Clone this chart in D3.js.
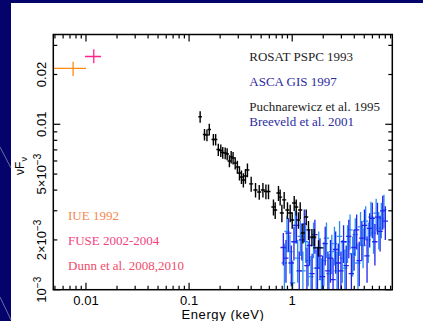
<!DOCTYPE html>
<html>
<head>
<meta charset="utf-8">
<script src="https://cdn.jsdelivr.net/npm/d3@7"></script>
<style>
  html, body { margin: 0; padding: 0; background: #03036b; }
  svg { display: block; }
</style>
</head>
<body>
<div id="chart"></div>
<script>
// ROSAT PSPC 1993 (energy keV, nuFnu in 1e-3 units, half errors)
const rosatE = [0.128, 0.141, 0.149, 0.157, 0.172, 0.181, 0.192, 0.203, 0.212, 0.224, 0.234, 0.246, 0.256, 0.267, 0.280, 0.294, 0.308, 0.322, 0.336, 0.352, 0.368, 0.40, 0.441, 0.479, 0.520, 0.556, 0.589, 0.658, 0.684, 0.736, 0.764, 0.794, 0.836, 0.900, 0.956, 1.00, 1.046, 1.094, 1.151, 1.196, 1.270, 1.367, 1.439, 1.553, 1.636, 1.80];
const rosatF = [11.1, 8.67, 8.61, 9.31, 8.09, 8.09, 7.04, 6.95, 6.75, 6.70, 6.61, 6.00, 6.35, 6.26, 5.83, 5.52, 5.08, 4.80, 4.60, 4.87, 5.29, 4.36, 4.01, 3.90, 4.01, 3.92, 3.92, 3.16, 3.03, 3.84, 3.63, 2.91, 3.49, 3.03, 2.91, 2.64, 3.34, 3.16, 2.64, 3.03, 2.20, 2.75, 2.30, 2.08, 2.08, 1.79];
const rosatDF = [0.9, 0.7, 0.7, 0.75, 0.65, 0.65, 0.6, 0.6, 0.55, 0.55, 0.55, 0.5, 0.55, 0.55, 0.5, 0.5, 0.5, 0.45, 0.45, 0.5, 0.5, 0.45, 0.4, 0.4, 0.4, 0.4, 0.4, 0.35, 0.35, 0.4, 0.4, 0.35, 0.4, 0.35, 0.35, 0.3, 0.35, 0.35, 0.3, 0.35, 0.3, 0.3, 0.3, 0.25, 0.25, 0.2];
const rosatDE = [0.005, 0.005, 0.006, 0.006, 0.007, 0.007, 0.008, 0.008, 0.009, 0.009, 0.010, 0.010, 0.011, 0.011, 0.012, 0.012, 0.013, 0.014, 0.014, 0.015, 0.016, 0.018, 0.020, 0.022, 0.024, 0.025, 0.027, 0.030, 0.031, 0.033, 0.035, 0.036, 0.038, 0.041, 0.044, 0.046, 0.048, 0.050, 0.053, 0.055, 0.058, 0.063, 0.066, 0.071, 0.075, 0.21];

// ASCA GIS 1997, two detectors
const gis2E = [0.82, 0.87, 0.92, 0.98, 1.04, 1.10, 1.17, 1.24, 1.31, 1.39, 1.47, 1.56, 1.66, 1.76, 1.86, 1.97, 2.09, 2.22, 2.35, 2.49, 2.64, 2.80, 2.97, 3.15, 3.34, 3.54, 3.75, 3.98, 4.22, 4.47, 4.74, 5.02, 5.32, 5.64, 5.98, 6.34, 6.72, 7.12, 7.55, 8.0];
const gis2F = [1.80, 1.55, 2.20, 1.45, 1.95, 2.45, 1.30, 2.00, 2.50, 1.40, 1.85, 1.25, 2.15, 1.35, 1.60, 1.20, 1.90, 1.30, 1.55, 1.15, 1.75, 1.45, 1.30, 1.95, 1.40, 2.10, 1.25, 1.80, 2.30, 1.50, 2.05, 2.45, 1.60, 2.35, 2.70, 1.95, 2.75, 2.25, 3.00, 2.60];
const gis2DF = [0.40, 0.45, 0.50, 0.40, 0.45, 0.55, 0.40, 0.50, 0.55, 0.40, 0.45, 0.40, 0.50, 0.45, 0.45, 0.40, 0.50, 0.40, 0.45, 0.40, 0.50, 0.45, 0.40, 0.50, 0.45, 0.55, 0.40, 0.50, 0.55, 0.45, 0.55, 0.60, 0.50, 0.55, 0.65, 0.55, 0.60, 0.55, 0.70, 0.60];
const gis2DE = [0.05, 0.05, 0.06, 0.06, 0.06, 0.07, 0.07, 0.08, 0.08, 0.08, 0.09, 0.09, 0.10, 0.10, 0.11, 0.12, 0.12, 0.13, 0.14, 0.15, 0.16, 0.17, 0.18, 0.19, 0.20, 0.21, 0.22, 0.24, 0.25, 0.27, 0.28, 0.30, 0.32, 0.34, 0.36, 0.38, 0.40, 0.43, 0.45, 0.48];

const gis3E = [0.84, 0.89, 0.95, 1.01, 1.07, 1.13, 1.20, 1.27, 1.35, 1.43, 1.52, 1.61, 1.71, 1.81, 1.92, 2.03, 2.15, 2.28, 2.42, 2.57, 2.72, 2.88, 3.06, 3.24, 3.44, 3.64, 3.86, 4.09, 4.34, 4.60, 4.87, 5.16, 5.47, 5.80, 6.15, 6.52, 6.91, 7.32, 7.76];
const gis3F = [1.45, 2.25, 1.70, 1.10, 2.45, 1.55, 2.10, 1.30, 1.95, 1.50, 1.20, 2.05, 1.35, 1.80, 1.15, 1.50, 2.05, 1.25, 1.70, 1.90, 1.30, 2.10, 1.55, 1.35, 1.95, 2.30, 1.65, 2.15, 1.45, 2.40, 1.85, 2.60, 2.00, 2.75, 2.20, 2.90, 2.35, 2.70, 3.05];
const gis3DF = [0.45, 0.55, 0.45, 0.40, 0.55, 0.45, 0.50, 0.40, 0.50, 0.45, 0.40, 0.50, 0.40, 0.45, 0.40, 0.45, 0.50, 0.40, 0.45, 0.50, 0.40, 0.50, 0.45, 0.40, 0.50, 0.55, 0.45, 0.55, 0.45, 0.55, 0.50, 0.60, 0.55, 0.65, 0.55, 0.65, 0.60, 0.65, 0.70];
const gis3DE = [0.05, 0.05, 0.06, 0.06, 0.06, 0.07, 0.07, 0.08, 0.08, 0.09, 0.09, 0.10, 0.10, 0.11, 0.11, 0.12, 0.13, 0.14, 0.14, 0.15, 0.16, 0.17, 0.18, 0.19, 0.21, 0.22, 0.23, 0.24, 0.26, 0.27, 0.29, 0.31, 0.33, 0.35, 0.37, 0.39, 0.41, 0.44, 0.46];

// UV points (keV, nuFnu in 1e-3 units)
const iueE = [0.0075], iueELo = [0.0049], iueEHi = [0.0100];
const iueF = [21.8], iueFLo = [19.6], iueFHi = [23.9];
const fuseE = [0.0119], fuseELo = [0.0098], fuseEHi = [0.0140];
const fuseF = [25.7], fuseFLo = [23.4], fuseFHi = [28.4];

const xLabels = [0.01, 0.1, 1];
const xLabelText = ["0.01", "0.1", "1"];
const yLabels = [0.02, 0.01, 0.005, 0.002, 0.001];
const yLabelMain = ["0.02", "0.01", "5\u00d710", "2\u00d710", "10"];
const yLabelSup = ["", "", "\u22123", "\u22123", "\u22123"];

const legendRight = [
  { text: "ROSAT PSPC 1993", color: "#222222", y: 61 },
  { text: "ASCA GIS 1997", color: "#2b2b9e", y: 86 },
  { text: "Puchnarewicz et al. 1995", color: "#222222", y: 111 },
  { text: "Breeveld et al. 2001", color: "#2b2b9e", y: 126 }
];
const legendLeft = [
  { text: "IUE 1992", color: "#f4874f", y: 220 },
  { text: "FUSE 2002-2004", color: "#f2437d", y: 245 },
  { text: "Dunn et al. 2008,2010", color: "#f04a6a", y: 270 }
];

const W = 423, H = 321;
const plot = { left: 53.3, right: 392.3, top: 34.5, bottom: 289.7 };

const svg = d3.select("#chart")
  .append("svg")
  .attr("width", W)
  .attr("height", H);

// slide background
svg.append("rect").attr("width", W).attr("height", H).attr("fill", "#03036b");
svg.append("rect").attr("x", 11).attr("y", 3).attr("width", W - 11).attr("height", H - 3).attr("fill", "#ffffff");
svg.append("line").attr("x1", 0).attr("y1", 147).attr("x2", 11).attr("y2", 168)
  .attr("stroke", "#8a8ab0").attr("stroke-width", 0.8);
svg.append("line").attr("x1", 0).attr("y1", 297).attr("x2", 11).attr("y2", 320)
  .attr("stroke", "#8a8ab0").attr("stroke-width", 0.8);

const x = d3.scaleLog().domain([0.00482, 9.35]).range([plot.left, plot.right]);
const y = d3.scaleLog().domain([0.001, 0.0349]).range([plot.bottom, plot.top]);

svg.append("clipPath").attr("id", "clip")
  .append("rect")
  .attr("x", plot.left).attr("y", plot.top)
  .attr("width", plot.right - plot.left).attr("height", plot.bottom - plot.top);

const g = svg.append("g").attr("clip-path", "url(#clip)");

function drawSeries(E, F, dE, dF, color, width) {
  const pts = E.map((e, i) => ({
    e, f: F[i] * 1e-3,
    eLo: e - dE[i], eHi: e + dE[i],
    fLo: Math.max((F[i] - dF[i]) * 1e-3, 1e-5), fHi: (F[i] + dF[i]) * 1e-3
  }));
  drawCrosses(pts, color, width);
}

function drawCrosses(pts, color, width) {
  const grp = g.append("g").attr("stroke", color).attr("stroke-width", width);
  grp.selectAll(".h").data(pts).enter().append("line")
    .attr("x1", d => x(d.eLo)).attr("x2", d => x(d.eHi))
    .attr("y1", d => y(d.f)).attr("y2", d => y(d.f));
  grp.selectAll(".v").data(pts).enter().append("line")
    .attr("x1", d => x(d.e)).attr("x2", d => x(d.e))
    .attr("y1", d => y(d.fLo)).attr("y2", d => y(d.fHi));
}

drawSeries(gis3E, gis3F, gis3DE, gis3DF, "#2a8ef5", 1.3);
drawSeries(gis2E, gis2F, gis2DE, gis2DF, "#2222ee", 1.3);
drawSeries(rosatE, rosatF, rosatDE, rosatDF, "#000000", 1.4);

const uv = (E, lo, hi, F, fLo, fHi) => E.map((e, i) => ({
  e, eLo: lo[i], eHi: hi[i], f: F[i] * 1e-3, fLo: fLo[i] * 1e-3, fHi: fHi[i] * 1e-3
}));
drawCrosses(uv(iueE, iueELo, iueEHi, iueF, iueFLo, iueFHi), "#ff8a10", 1.3);
drawCrosses(uv(fuseE, fuseELo, fuseEHi, fuseF, fuseFLo, fuseFHi), "#ff2288", 1.3);

// axes: inward ticks on all four sides
const isMajor = v => Math.abs(Math.log10(v) - Math.round(Math.log10(v))) < 1e-6;
const xTicks = x.ticks();
const yTicks = y.ticks();

const axes = svg.append("g").attr("stroke", "#000").attr("stroke-width", 1.2);
axes.selectAll(".xb").data(xTicks).enter().append("line")
  .attr("x1", d => x(d)).attr("x2", d => x(d))
  .attr("y1", plot.bottom).attr("y2", d => plot.bottom - (isMajor(d) ? 7 : 4));
axes.selectAll(".xt").data(xTicks).enter().append("line")
  .attr("x1", d => x(d)).attr("x2", d => x(d))
  .attr("y1", plot.top).attr("y2", d => plot.top + (isMajor(d) ? 7 : 4));
axes.selectAll(".yl").data(yTicks).enter().append("line")
  .attr("y1", d => y(d)).attr("y2", d => y(d))
  .attr("x1", plot.left).attr("x2", d => plot.left + (isMajor(d) ? 7 : 4));
axes.selectAll(".yr").data(yTicks).enter().append("line")
  .attr("y1", d => y(d)).attr("y2", d => y(d))
  .attr("x1", plot.right).attr("x2", d => plot.right - (isMajor(d) ? 7 : 4));

svg.append("rect")
  .attr("x", plot.left).attr("y", plot.top)
  .attr("width", plot.right - plot.left).attr("height", plot.bottom - plot.top)
  .attr("fill", "none").attr("stroke", "#000").attr("stroke-width", 1.5);

const sans = "'Liberation Sans', Arial, Helvetica, sans-serif";
const serif = "'Liberation Serif', 'Times New Roman', serif";

svg.selectAll(".xlab").data(xLabels).enter().append("text")
  .attr("x", d => x(d)).attr("y", 305)
  .attr("text-anchor", "middle")
  .attr("font-family", sans).attr("font-size", 13)
  .text((d, i) => xLabelText[i]);

const yl = svg.selectAll(".ylab").data(yLabels).enter().append("text")
  .attr("transform", d => `translate(45.5, ${y(d)}) rotate(-90)`)
  .attr("text-anchor", "middle")
  .attr("font-family", sans).attr("font-size", 13);
yl.append("tspan").text((d, i) => yLabelMain[i]);
yl.append("tspan").attr("dy", -5).attr("font-size", 10).text((d, i) => yLabelSup[i]);

svg.append("text")
  .attr("x", 223).attr("y", 319)
  .attr("text-anchor", "middle")
  .attr("font-family", sans).attr("font-size", 13)
  .attr("letter-spacing", 0.6)
  .text("Energy (keV)");

const yt = svg.append("text")
  .attr("transform", "translate(24, 166) rotate(-90)")
  .attr("text-anchor", "middle")
  .attr("font-family", sans).attr("font-size", 12);
yt.append("tspan").text("\u03bdF");
yt.append("tspan").attr("dy", 3).attr("font-size", 9).text("\u03bd");

svg.selectAll(".legR").data(legendRight).enter().append("text")
  .attr("x", 249.3).attr("y", d => d.y)
  .attr("font-family", serif).attr("font-size", 13)
  .attr("fill", d => d.color)
  .text(d => d.text);

svg.selectAll(".legL").data(legendLeft).enter().append("text")
  .attr("x", 68).attr("y", d => d.y)
  .attr("font-family", serif).attr("font-size", 13)
  .attr("fill", d => d.color)
  .text(d => d.text);
</script>
</body>
</html>
